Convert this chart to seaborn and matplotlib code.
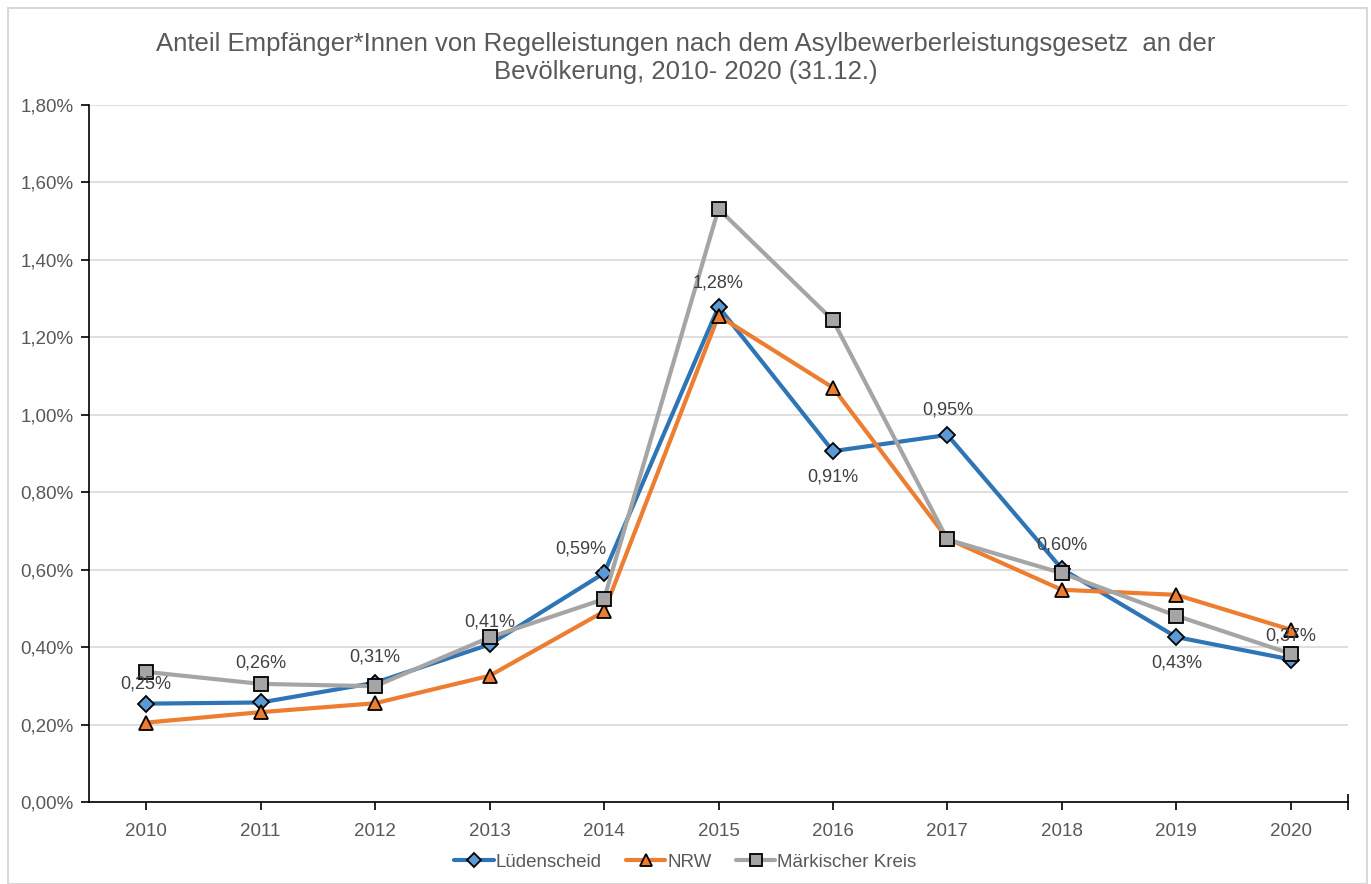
import matplotlib
matplotlib.use("Agg")
import matplotlib.pyplot as plt
import seaborn as sns
import pandas as pd
from matplotlib.lines import Line2D
from matplotlib.patches import Rectangle
from matplotlib.ticker import FuncFormatter, MultipleLocator

years = [2010, 2011, 2012, 2013, 2014, 2015, 2016, 2017, 2018, 2019, 2020]
luedenscheid = [0.254, 0.257, 0.308, 0.407, 0.591, 1.279, 0.906, 0.948, 0.602, 0.426, 0.368]
nrw = [0.205, 0.232, 0.255, 0.326, 0.492, 1.256, 1.070, 0.680, 0.548, 0.535, 0.445]
mk = [0.336, 0.305, 0.299, 0.425, 0.524, 1.532, 1.244, 0.678, 0.591, 0.481, 0.383]
series_names = ["Lüdenscheid", "NRW", "Märkischer Kreis"]

title = ("Anteil Empfänger*Innen von Regelleistungen nach dem Asylbewerberleistungsgesetz  an der\n"
         "Bevölkerung, 2010- 2020 (31.12.)")

sns.set_theme(style="white")
plt.rcParams["font.family"] = ["Liberation Sans", "DejaVu Sans"]

df = pd.DataFrame({
    "Jahr": years * 3,
    "Anteil": luedenscheid + nrw + mk,
    "Gebiet": [series_names[0]] * len(years) + [series_names[1]] * len(years) + [series_names[2]] * len(years),
})

fig = plt.figure(figsize=(13.71, 8.84), dpi=100)
ax = fig.add_axes([89 / 1371, 1 - 802 / 884, (1348 - 89) / 1371, (802 - 105) / 884])

styles = {
    "Lüdenscheid": dict(color="#2E75B6", marker="D", mfc="#5B9BD5", ms=8.5),
    "NRW": dict(color="#ED7D31", marker="^", mfc="#ED7D31", ms=10),
    "Märkischer Kreis": dict(color="#A5A5A5", marker="s", mfc="#A5A5A5", ms=10),
}
zorders = {"Lüdenscheid": 3, "NRW": 4, "Märkischer Kreis": 5}

for name in series_names:
    st = styles[name]
    sub = df[df["Gebiet"] == name]
    sns.lineplot(data=sub, x="Jahr", y="Anteil", ax=ax, color=st["color"], linewidth=3,
                 marker=st["marker"], markersize=st["ms"], markerfacecolor=st["mfc"],
                 markeredgecolor="black", markeredgewidth=1.3, zorder=zorders[name],
                 legend=False)

ax.set_xlim(2009.5, 2020.5)
ax.set_ylim(0, 1.8)
ax.yaxis.set_major_locator(MultipleLocator(0.2))
ax.yaxis.set_major_formatter(FuncFormatter(lambda v, p: f"{v:.2f}%".replace(".", ",")))
ax.set_xticks(years)
ax.set_xticklabels([str(y) for y in years])
ax.set_xlabel("")
ax.set_ylabel("")
ax.grid(axis="y", color="#D9D9D9", linewidth=1.2)
ax.set_axisbelow(True)
for s in ["top", "right"]:
    ax.spines[s].set_visible(False)
for s in ["left", "bottom"]:
    ax.spines[s].set_color("black")
    ax.spines[s].set_linewidth(1.2)
ax.tick_params(axis="both", which="both", length=6, width=1.2, color="black",
               labelsize=13.5, labelcolor="#595959", direction="out", bottom=True, left=True)
ax.tick_params(axis="x", pad=9)
ax.tick_params(axis="y", pad=5)
# tick at right end of category axis
ax.plot([1], [0], transform=ax.transAxes, marker="|", ms=12, color="black", mew=1.2,
        clip_on=False, zorder=6)

offsets = [(0, 20), (0, 39), (0, 26), (0, 22), (-23, 24), (0, 24), (0, -26), (0, 25), (0, 24), (0, -26), (0, 24)]
for x, v, (dx, dy) in zip(years, luedenscheid, offsets):
    lbl = f"{v:.2f}%".replace(".", ",")
    if dx != 0:
        ax.annotate(lbl, xy=(x, v), xytext=(dx, dy), textcoords="offset pixels",
                    ha="center", va="center", fontsize=13, color="#404040", zorder=7,
                    arrowprops=dict(arrowstyle="-", color="#A6A6A6", lw=1,
                                    shrinkA=8, shrinkB=4))
    else:
        ax.annotate(lbl, xy=(x, v), xytext=(dx, dy), textcoords="offset pixels",
                    ha="center", va="center", fontsize=13, color="#404040", zorder=7)

fig.text(0.5, 1 - 58 / 884, title, ha="center", va="center", fontsize=18.5,
         color="#595959", linespacing=1.25)

handles = [Line2D([], [], color=styles[n]["color"], lw=3, marker=styles[n]["marker"],
                  ms=styles[n]["ms"] * 0.85, mfc=styles[n]["mfc"], mec="black", mew=1.3)
           for n in series_names]
fig.legend(handles, series_names, loc="center", bbox_to_anchor=(0.5, 1 - 862 / 884),
           ncol=3, frameon=False, fontsize=13.5, labelcolor="#595959",
           handlelength=2.1, handletextpad=0.1, columnspacing=1.3)

fig.patches.append(Rectangle((8 / 1371, 0), (1367 - 8) / 1371, 1 - 8 / 884,
                             transform=fig.transFigure, fill=False,
                             edgecolor="#D9D9D9", linewidth=1.5))

fig.savefig("out.png", dpi=100, facecolor="white")
